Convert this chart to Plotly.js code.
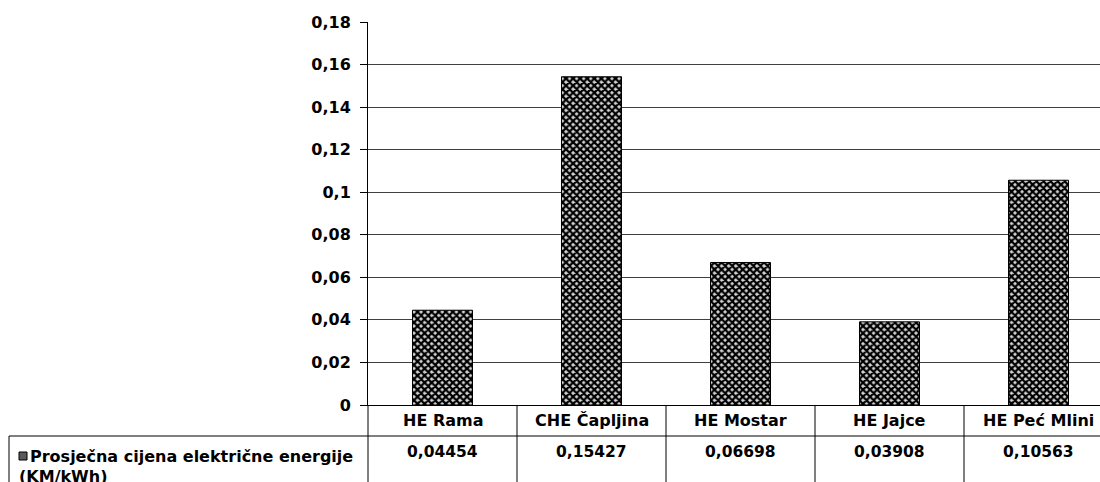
<!DOCTYPE html>
<html>
<head>
<meta charset="utf-8">
<script src="https://cdn.plot.ly/plotly-3.0.1.min.js"></script>
<style>
html,body{margin:0;padding:0;background:#fff;overflow:hidden;}
#chart{width:1100px;height:482px;}
</style>
</head>
<body>
<div id="chart"></div>
<script>
const categories = ["HE Rama", "CHE Čapljina", "HE Mostar", "HE Jajce", "HE Peć Mlini"];
const values = [0.04454, 0.15427, 0.06698, 0.03908, 0.10563];
const valueLabels = ["0,04454", "0,15427", "0,06698", "0,03908", "0,10563"];
const tickVals = [0, 0.02, 0.04, 0.06, 0.08, 0.1, 0.12, 0.14, 0.16, 0.18];
const tickText = ["0", "0,02", "0,04", "0,06", "0,08", "0,1", "0,12", "0,14", "0,16", "0,18"];
const seriesName = "Prosječna cijena električne energije";
const unitLabel = "(KM/kWh)";

const W = 1100, H = 482;
const M = {l: 368, r: 0, t: 22, b: 77};
const PW = W - M.l - M.r, PH = H - M.t - M.b;
const px = x => (x - M.l) / PW;
const py = y => (M.t + PH - y) / PH;
const FONT = "DejaVu Sans";
const catWidth = 149;
const xMax = -0.5 + PW / catWidth;

const trace = {
  type: "bar",
  x: categories,
  y: values,
  name: seriesName,
  marker: {
    color: "#555555",
    line: {color: "#000", width: 1},
    pattern: {shape: "x", fgcolor: "#000", bgcolor: "#d4d4d4", size: 5, solidity: 0.7}
  },
  hoverinfo: "x+y"
};

const shapes = [];
const lineStyle = {color: "#000", width: 1};
shapes.push({type: "line", xref: "paper", yref: "paper", x0: px(9), x1: 1, y0: py(436), y1: py(436), line: lineStyle});
shapes.push({type: "line", xref: "paper", yref: "paper", x0: px(9), x1: px(9), y0: py(436), y1: py(H + 2), line: lineStyle});
shapes.push({type: "line", xref: "paper", yref: "paper", x0: 0, x1: 0, y0: 0, y1: py(H + 2), line: lineStyle});
for (let i = 0; i < categories.length - 1; i++) {
  shapes.push({type: "line", xref: "x", yref: "paper", x0: i + 0.5, x1: i + 0.5, y0: 0, y1: py(H + 2), line: lineStyle});
}
shapes.push({type: "rect", xref: "paper", yref: "paper", x0: px(19), x1: px(27), y0: py(460), y1: py(452),
  fillcolor: "#5a5a5a", line: {color: "#000", width: 1}});

const annotations = [];
const catFont = {family: FONT, size: 16, color: "#000", weight: 700};
const valFont = {family: FONT, size: 15.5, color: "#000", weight: 700};
categories.forEach((c, i) => {
  annotations.push({xref: "x", yref: "paper", x: i, y: py(420), text: c, showarrow: false,
    xanchor: "center", yanchor: "middle", font: catFont});
  annotations.push({xref: "x", yref: "paper", x: i, y: py(452), text: valueLabels[i], showarrow: false,
    xanchor: "center", yanchor: "middle", font: valFont});
});
annotations.push({xref: "paper", yref: "paper", x: px(28), y: py(456), text: seriesName, showarrow: false,
  xanchor: "left", yanchor: "middle", font: catFont});
annotations.push({xref: "paper", yref: "paper", x: px(17), y: py(476), text: unitLabel, showarrow: false,
  xanchor: "left", yanchor: "middle", font: catFont});

const layout = {
  width: W, height: H,
  margin: M,
  paper_bgcolor: "#fff", plot_bgcolor: "#fff",
  showlegend: false,
  bargap: 1 - 60 / catWidth,
  font: {family: FONT, color: "#000"},
  xaxis: {
    type: "category",
    range: [-0.5, xMax],
    showticklabels: false, ticks: "",
    showline: true, linecolor: "#000", linewidth: 1,
    showgrid: false, zeroline: false, fixedrange: true
  },
  yaxis: {
    range: [0, 0.18],
    tickvals: tickVals, ticktext: tickText,
    ticks: "outside", ticklen: 7, tickcolor: "#000", tickwidth: 1,
    ticklabelstandoff: 6,
    tickfont: {family: FONT, size: 16, color: "#000", weight: 700},
    showline: true, linecolor: "#000", linewidth: 1,
    showgrid: true, gridcolor: "#404040", gridwidth: 1,
    zeroline: false, fixedrange: true
  },
  shapes: shapes,
  annotations: annotations
};

Plotly.newPlot("chart", [trace], layout, {displayModeBar: false, staticPlot: true});
</script>
</body>
</html>
